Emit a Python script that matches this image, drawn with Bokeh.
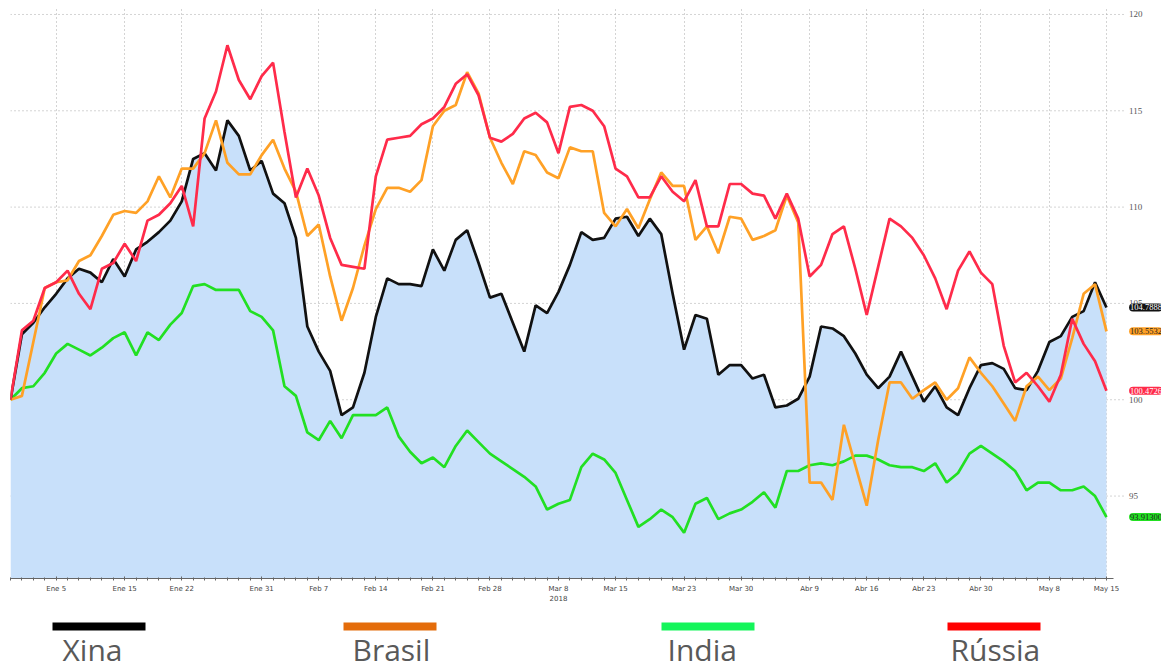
import pandas as pd
from bokeh.plotting import figure
from bokeh.models import Range1d, FixedTicker, ColumnDataSource
from bokeh.layouts import column
from bokeh.core.properties import value
from bokeh.embed import file_html
from bokeh.resources import INLINE

# ---------------- data ----------------
start_date = "2018-01-01"
end_date = "2018-05-15"

xina = [100.0, 103.4, 104.0, 104.8, 105.5, 106.3, 106.8, 106.6, 106.1, 107.3,
        106.4, 107.8, 108.2, 108.7, 109.3, 110.3, 112.5, 112.8, 111.9, 114.5,
        113.7, 111.9, 112.4, 110.7, 110.2, 108.4, 103.8, 102.5, 101.5, 99.2,
        99.6, 101.4, 104.3, 106.3, 106.0, 106.0, 105.9, 107.8, 106.7, 108.3,
        108.8, 107.1, 105.3, 105.5, 104.0, 102.5, 104.9, 104.5, 105.6, 107.0,
        108.7, 108.3, 108.4, 109.4, 109.5, 108.5, 109.4, 108.6, 105.5, 102.6,
        104.4, 104.2, 101.3, 101.8, 101.8, 101.1, 101.3, 99.6, 99.7, 100.05,
        101.2, 103.8, 103.7, 103.3, 102.4, 101.3, 100.6, 101.2, 102.5, 101.2,
        99.9, 100.7, 99.6, 99.2, 100.6, 101.8, 101.9, 101.6, 100.6, 100.5,
        101.5, 103.0, 103.3, 104.3, 104.6, 106.1, 104.79]

brasil = [100.0, 100.2, 103.0, 105.8, 106.1, 106.2, 107.2, 107.5, 108.5, 109.6,
          109.8, 109.7, 110.3, 111.6, 110.5, 112.0, 112.0, 112.8, 114.5, 112.3,
          111.7, 111.7, 112.7, 113.5, 112.0, 110.8, 108.5, 109.1, 106.4, 104.1,
          105.8, 108.0, 109.9, 111.0, 111.0, 110.8, 111.4, 114.2, 115.0, 115.3,
          117.0, 115.9, 113.6, 112.3, 111.2, 112.9, 112.7, 111.8, 111.5, 113.1,
          112.9, 112.9, 109.7, 109.0, 109.9, 108.9, 110.4, 111.8, 111.1, 111.1,
          108.3, 109.0, 107.6, 109.5, 109.4, 108.3, 108.5, 108.8, 110.6, 109.2,
          95.7, 95.7, 94.8, 98.7, 96.6, 94.5, 97.9, 100.9, 100.9, 100.05,
          100.5, 100.9, 100.0, 100.6, 102.2, 101.4, 100.7, 99.8, 98.9, 100.7,
          101.2, 100.5, 101.1, 103.2, 105.5, 106.0, 103.55]

india = [100.0, 100.6, 100.7, 101.4, 102.4, 102.9, 102.6, 102.3, 102.7, 103.2,
         103.5, 102.3, 103.5, 103.1, 103.9, 104.5, 105.9, 106.0, 105.7, 105.7,
         105.7, 104.6, 104.3, 103.6, 100.7, 100.2, 98.3, 97.9, 98.9, 98.0,
         99.2, 99.2, 99.2, 99.6, 98.1, 97.3, 96.7, 97.0, 96.5, 97.6,
         98.4, 97.8, 97.2, 96.8, 96.4, 96.0, 95.5, 94.3, 94.6, 94.8,
         96.5, 97.2, 96.9, 96.2, 94.8, 93.4, 93.8, 94.3, 93.9, 93.1,
         94.6, 94.9, 93.8, 94.1, 94.3, 94.7, 95.2, 94.4, 96.3, 96.3,
         96.6, 96.7, 96.6, 96.8, 97.1, 97.1, 96.9, 96.6, 96.5, 96.5,
         96.3, 96.7, 95.7, 96.2, 97.2, 97.6, 97.2, 96.8, 96.3, 95.3,
         95.7, 95.7, 95.3, 95.3, 95.5, 95.0, 93.91]

russia = [100.0, 103.6, 104.1, 105.8, 106.1, 106.7, 105.5, 104.7, 106.8, 107.1,
          108.1, 107.2, 109.3, 109.6, 110.2, 111.1, 109.0, 114.6, 116.0, 118.4,
          116.6, 115.6, 116.8, 117.5, 113.9, 110.5, 112.0, 110.6, 108.4, 107.0,
          106.9, 106.8, 111.6, 113.5, 113.6, 113.7, 114.3, 114.6, 115.2, 116.4,
          116.9, 115.8, 113.6, 113.4, 113.8, 114.6, 114.9, 114.4, 112.8, 115.2,
          115.3, 115.0, 114.2, 112.0, 111.6, 110.5, 110.5, 111.6, 110.8, 110.3,
          111.4, 109.0, 109.0, 111.2, 111.2, 110.7, 110.6, 109.4, 110.7, 109.4,
          106.4, 107.0, 108.6, 109.0, 106.8, 104.4, 106.9, 109.4, 109.0, 108.4,
          107.5, 106.3, 104.7, 106.7, 107.7, 106.6, 106.0, 102.8, 100.9, 101.4,
          100.7, 99.9, 101.3, 104.2, 102.9, 102.0, 100.47]

last_labels = ["104.7888", "103.5532", "100.4726", "93.91300"]

tick_dates = ["2018-01-05", "2018-01-15", "2018-01-22", "2018-01-31", "2018-02-07",
              "2018-02-14", "2018-02-21", "2018-02-28", "2018-03-08", "2018-03-15",
              "2018-03-23", "2018-03-30", "2018-04-09", "2018-04-16", "2018-04-23",
              "2018-04-30", "2018-05-08", "2018-05-15"]
tick_labels = ["Ene 5", "Ene 15", "Ene 22", "Ene 31", "Feb 7", "Feb 14", "Feb 21",
               "Feb 28", "Mar 8\n2018", "Mar 15", "Mar 23", "Mar 30", "Abr 9", "Abr 16",
               "Abr 23", "Abr 30", "May 8", "May 15"]
y_ticks = [95, 100, 105, 110, 115, 120]

legend_names = ["Xina", "Brasil", "India", "Rússia"]
legend_colors = ["#000000", "#E46C0A", "#14F55A", "#FF0000"]

line_colors = {"xina": "#111111", "brasil": "#FFA126", "india": "#22E022", "russia": "#FF2B4A"}

# ---------------- build ----------------
dates = pd.bdate_range(start_date, end_date)
idx = list(range(len(dates)))
date_pos = {d.strftime("%Y-%m-%d"): i for i, d in enumerate(dates)}
tick_pos = [date_pos[d] for d in tick_dates]
minor_pos = [i for i in idx if i not in tick_pos]
last = idx[-1]

src = ColumnDataSource(dict(x=idx, xina=xina, brasil=brasil, india=india, russia=russia,
                            base=[80.0] * len(idx)))

p = figure(width=1161, height=608, output_backend="svg", toolbar_location=None,
           x_range=Range1d(0, 100.82), y_range=Range1d(90.72, 120.31),
           y_axis_type=None,
           min_border_left=10, min_border_right=0, min_border_top=8, min_border_bottom=30)
p.outline_line_color = None
p.background_fill_color = "white"

# horizontal dotted grid (ends before the value labels)
p.segment(x0=[0] * len(y_ticks), x1=[last + 1.6] * len(y_ticks), y0=y_ticks, y1=y_ticks,
          line_color="#a8a8a8", line_dash="1 3", line_width=1)

p.varea(x="x", y1="base", y2="xina", source=src, fill_color="#C8E0FA")

line_w = 2.7
for key in ["india", "xina", "brasil", "russia"]:
    p.line("x", key, source=src, line_color=line_colors[key], line_width=line_w)

# x axis
xa = p.xaxis[0]
xa.bounds = (0, 96.6)
xa.ticker = FixedTicker(ticks=tick_pos, minor_ticks=minor_pos)
xa.major_label_overrides = {pos: lab for pos, lab in zip(tick_pos, tick_labels)}
xa.major_label_text_font = "DejaVu Sans"
xa.major_label_text_font_size = "7px"
xa.major_label_text_color = "#444444"
xa.major_label_text_line_height = 1.3
xa.major_label_standoff = 4
xa.axis_line_color = "#666666"
xa.major_tick_line_color = "#666666"
xa.minor_tick_line_color = "#666666"
xa.major_tick_in = 2
xa.major_tick_out = 2
xa.minor_tick_in = 1
xa.minor_tick_out = 2

g = p.xgrid[0]
g.grid_line_color = "#a8a8a8"
g.grid_line_dash = "1 3"
g.grid_line_width = 1
g.ticker = FixedTicker(ticks=tick_pos)

# right-hand value scale (text)
lab_x = last + 1.98
p.text(x=[lab_x] * len(y_ticks), y=y_ticks, text=[str(t) for t in y_ticks],
       text_font=value("Liberation Serif"), text_font_size="9px",
       text_color="#555555", text_baseline="middle", text_align="left")

# end-value tags
tag_vals = [xina[-1], brasil[-1], russia[-1], india[-1]]
tag_bg = [line_colors["xina"], line_colors["brasil"], line_colors["russia"], line_colors["india"]]
tag_fg = ["white", "#222222", "white", "#222222"]
tag_src = ColumnDataSource(dict(x=[lab_x] * 4, y=tag_vals, t=last_labels, bg=tag_bg, fg=tag_fg))
p.text(x="x", y="y", text="t", source=tag_src,
       text_font=value("Liberation Serif"), text_font_size="8.5px",
       text_color="fg", text_baseline="middle", text_align="left",
       background_fill_color="bg", padding=1, border_radius=4)

# ---------------- legend strip ----------------
leg = figure(width=1161, height=62, output_backend="svg", toolbar_location=None,
             x_range=Range1d(10, 1161), y_range=Range1d(62, 0),
             x_axis_type=None, y_axis_type=None,
             min_border_left=10, min_border_right=0, min_border_top=0, min_border_bottom=0)
leg.outline_line_color = None

bar_left = [52, 343, 661, 947]
bar_w = 93
text_left = [62, 352, 667, 950]
leg_src = ColumnDataSource(dict(
    xc=[b + bar_w / 2 for b in bar_left], yc=[18] * 4, col=legend_colors,
    tx=text_left, ty=[61] * 4, name=legend_names))
leg.rect(x="xc", y="yc", width=bar_w, height=8, fill_color="col", line_color=None,
         source=leg_src)
leg.text(x="tx", y="ty", text="name", source=leg_src, text_font=value("Open Sans"),
         text_font_size="30px", text_color="#595959", text_baseline="bottom")

layout = column(p, leg, spacing=0)
open("out.html", "w").write(file_html(layout, INLINE))
